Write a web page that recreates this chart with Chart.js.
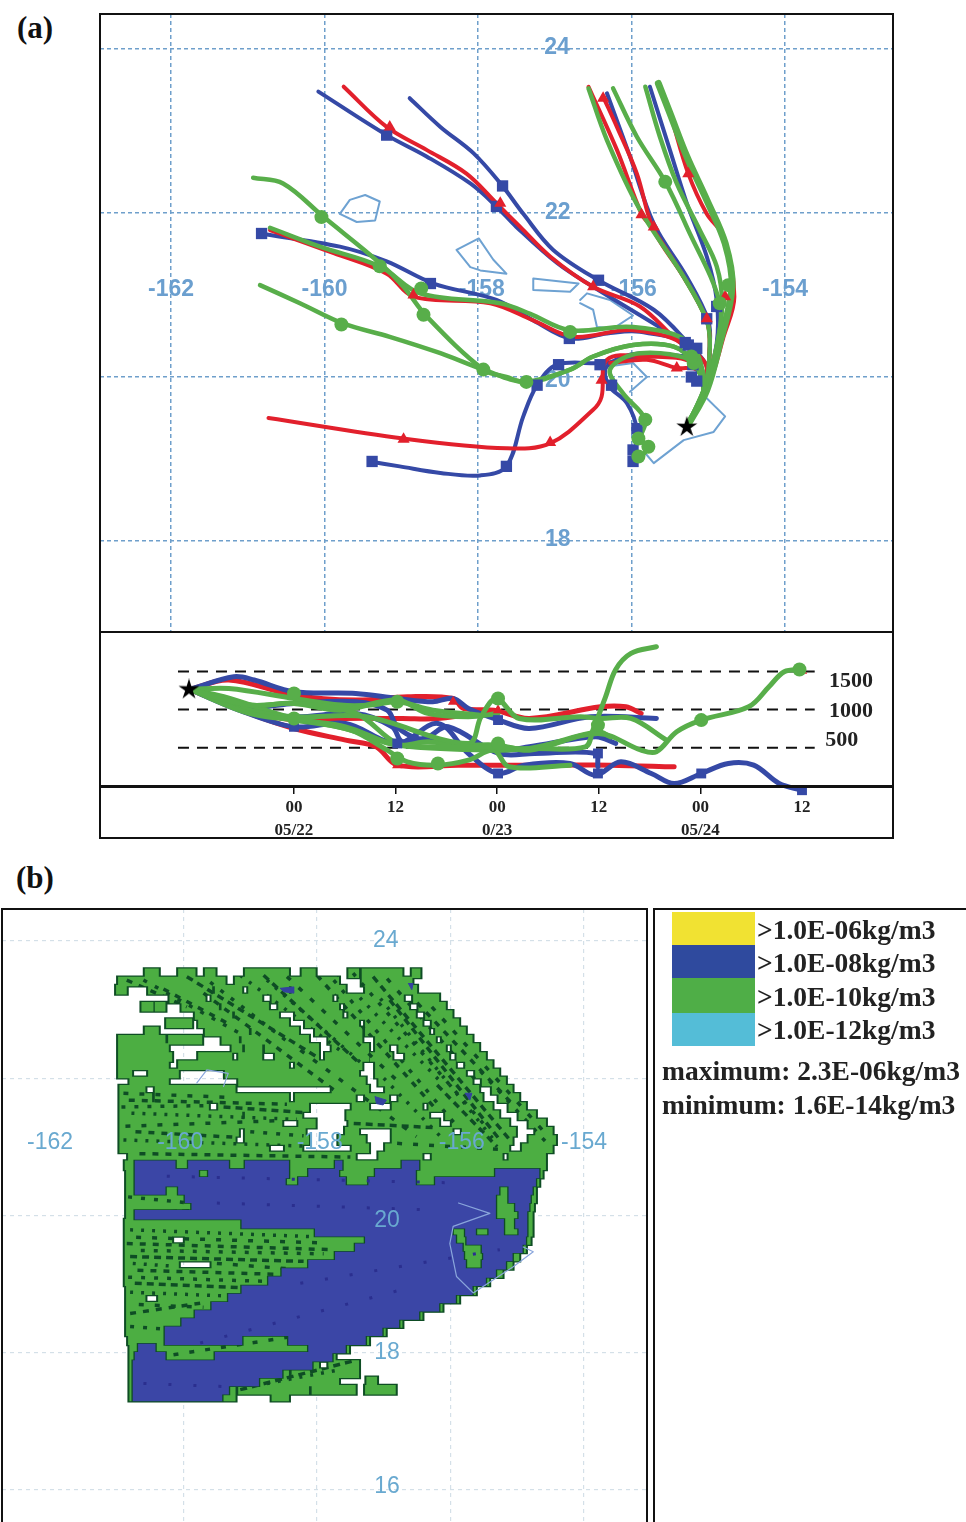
<!DOCTYPE html>
<html>
<head>
<meta charset="utf-8">
<title>Trajectories and concentration</title>
<script src="https://cdn.jsdelivr.net/npm/chart.js@4"></script>
<style>
  html, body { margin: 0; padding: 0; background: #fff; }
  body { position: relative; width: 966px; height: 1522px; overflow: hidden; font-family: "Liberation Serif", serif; }
  canvas { position: absolute; }
  .frame { position: absolute; box-sizing: border-box; border: 2px solid #111; pointer-events: none; }
  .panel { position: absolute; font: bold 31px "Liberation Serif", serif; color: #111; }
  .swatch { position: absolute; left: 672px; width: 83px; }
  .legtext { position: absolute; font: bold 27.5px "Liberation Serif", serif; color: #222; white-space: nowrap; line-height: 30px; }
</style>
</head>
<body>
<div class="panel" style="left:17px;top:10px">(a)</div>
<div class="panel" style="left:16px;top:860px">(b)</div>
<canvas id="mapA" width="792" height="618" style="left:100px;top:14px;filter:blur(0.6px)"></canvas>
<canvas id="heightA" width="792" height="206" style="left:100px;top:632px;filter:blur(0.4px)"></canvas>
<canvas id="mapB" width="644" height="613" style="left:2px;top:909px;filter:blur(0.5px)"></canvas>
<div class="frame" style="left:99px;top:13px;width:795px;height:826px"></div>
<div class="frame" style="left:99px;top:631px;width:795px;height:3px;border-width:2px 0 0 0"></div>
<div class="frame" style="left:99px;top:785px;width:795px;height:4px;border-width:3px 0 0 0"></div>
<div class="frame" style="left:1px;top:908px;width:647px;height:640px"></div>
<div class="frame" style="left:653px;top:908px;width:340px;height:640px"></div>
<div id="legend"></div>

<script>
// panel (a) map, [lon, lat]
const star = [-155.28, 19.39];
const hub = [-155.06, 19.84];

const blueTracks = [
    [star, [-155.04,19.88], [-154.89,20.41], [-154.89,20.94], [-155.02,21.47], [-155.28,22.12], [-155.50,22.77], [-155.76,23.54]],
    [star, [-155.04,19.88], [-154.98,20.37], [-155.00,20.69], [-155.28,21.22], [-155.71,21.87], [-156.02,22.69], [-156.32,23.46]],
    [star, hub, [-155.02,20.13], [-155.26,20.41], [-155.71,20.82], [-156.43,21.18], [-157.02,21.55], [-157.41,21.99], [-157.69,22.34], [-158.06,22.73], [-158.49,23.05], [-158.89,23.40]],
    [star, hub, [-155.19,20.33], [-155.50,20.53], [-156.50,21.10], [-156.97,21.39], [-157.50,21.83], [-157.76,22.08], [-158.10,22.36], [-158.67,22.69], [-159.19,22.95], [-160.08,23.48]],
    [star, hub, [-155.24,20.37], [-155.89,20.55], [-156.32,20.53], [-156.80,20.47], [-157.28,20.69], [-157.76,20.94], [-158.58,21.14], [-159.19,21.41], [-159.80,21.59], [-160.84,21.75]],
    [star, hub, [-155.19,20.21], [-155.80,20.25], [-156.37,20.17], [-156.97,20.15], [-157.23,19.90], [-157.41,19.52], [-157.63,18.91], [-157.97,18.80], [-158.49,18.83], [-159.02,18.91], [-159.41,18.97]],
    [star, hub, [-155.19,20.17], [-155.89,20.29], [-156.32,20.13], [-156.30,19.90], [-156.06,19.68], [-155.93,19.35], [-155.98,18.95]]
];
const redTracks = [
    [star, [-155.00,19.88], [-154.80,20.49], [-154.66,20.98], [-154.80,21.71], [-155.02,21.99], [-155.26,22.48], [-155.50,23.22], [-155.61,23.50]],
    [star, [-155.04,19.88], [-154.98,20.37], [-155.02,20.69], [-155.32,21.22], [-155.74,21.83], [-155.87,21.99], [-156.19,22.77], [-156.56,23.54]],
    [star, [-155.04,19.88], [-154.98,20.37], [-155.02,20.69], [-155.32,21.22], [-155.71,21.79], [-155.93,22.48], [-156.19,23.05], [-156.37,23.42]],
    [star, hub, [-155.04,20.17], [-155.41,20.45], [-155.89,20.86], [-156.50,21.10], [-157.06,21.47], [-157.45,21.83], [-157.76,22.12], [-158.15,22.48], [-158.67,22.77], [-159.19,23.05], [-159.75,23.54]],
    [star, hub, [-155.28,20.37], [-155.98,20.57], [-156.76,20.49], [-157.28,20.69], [-157.84,20.90], [-158.84,20.98], [-159.19,21.26], [-159.88,21.51], [-160.71,21.79]],
    [star, hub, [-155.19,20.17], [-155.80,20.25], [-156.32,20.21], [-156.39,19.76], [-156.50,19.60], [-157.06,19.19], [-157.63,19.13], [-158.97,19.25], [-160.73,19.50]],
    [star, hub, [-155.15,20.09], [-155.41,20.11], [-155.80,20.21], [-156.28,20.17]]
];
const greenTracks = [
    [star, [-155.02,19.84], [-154.85,20.41], [-154.69,21.10], [-154.78,21.63], [-155.02,22.16], [-155.28,22.69], [-155.50,23.22], [-155.65,23.58]],
    [star, hub, [-154.89,20.37], [-154.82,20.90], [-154.89,21.35], [-155.11,21.79], [-155.41,22.36], [-155.63,22.93], [-155.82,23.54]],
    [star, [-155.04,19.88], [-154.89,20.37], [-154.85,20.90], [-155.28,21.83], [-155.56,22.38], [-155.93,22.93], [-156.24,23.52]],
    [star, [-155.04,19.88], [-154.98,20.37], [-155.02,20.69], [-155.32,21.22], [-155.89,22.04], [-156.32,22.89], [-156.56,23.52]],
    [star, hub, [-155.24,20.41], [-155.98,20.61], [-156.80,20.57], [-157.32,20.77], [-157.71,20.90], [-158.75,21.02], [-159.28,21.35], [-160.06,21.59], [-160.71,21.82]],
    [star, hub, [-155.19,20.17], [-155.45,20.37], [-155.98,20.39], [-156.50,20.25], [-156.80,20.09], [-157.37,19.94], [-157.63,20.00], [-157.93,20.09], [-158.67,20.74], [-158.97,21.10], [-159.28,21.39], [-160.01,21.95], [-160.54,22.36], [-160.93,22.43]],
    [star, hub, [-155.19,20.17], [-155.45,20.37], [-155.98,20.39], [-156.50,20.25], [-156.80,20.09], [-157.37,19.94], [-157.93,20.09], [-158.49,20.29], [-159.15,20.49], [-159.75,20.65], [-160.32,20.90], [-160.84,21.12]],
    [star, hub, [-155.15,20.17], [-155.89,20.29], [-156.28,20.09], [-156.11,19.80], [-155.82,19.48], [-155.89,19.23], [-155.78,19.15], [-155.91,18.99]]
];
const blueMarks = [[-155.26,20.39], [-155.30,20.42], [-155.15,20.35], [-155.22,20.00], [-155.15,19.95], [-155.20,20.15], [-155.02,20.71], [-154.89,20.86], [-156.43,21.18], [-157.76,22.08], [-157.68,22.33], [-159.19,22.95], [-160.82,21.75], [-158.62,21.14], [-156.81,20.47], [-156.95,20.15], [-157.23,19.90], [-156.26,19.90], [-157.63,18.91], [-159.38,18.97], [-155.93,19.37], [-155.98,19.11], [-155.98,18.97], [-156.41,20.15]];
const redMarks = [[-156.37,23.40], [-155.87,21.98], [-155.71,21.83], [-155.26,22.48], [-154.78,20.98], [-155.02,20.71], [-155.41,20.11], [-156.39,19.96], [-157.06,19.20], [-158.97,19.24], [-157.71,22.12], [-156.50,21.10], [-159.15,23.05], [-158.84,21.00]];
const greenMarks = [[-154.74,21.12], [-154.85,20.90], [-155.19,20.17], [-155.22,20.25], [-155.56,22.38], [-158.74,21.08], [-158.71,20.76], [-157.93,20.09], [-156.80,20.55], [-159.78,20.64], [-160.04,21.95], [-159.28,21.35], [-155.82,19.48], [-155.91,19.25], [-155.78,19.15], [-155.91,19.03], [-157.37,19.94]];
const coastA = [
    [[-159.80,21.99], [-159.67,22.16], [-159.47,22.22], [-159.28,22.14], [-159.34,21.91], [-159.58,21.89], [-159.80,21.99]],
    [[-158.28,21.55], [-157.99,21.69], [-157.80,21.43], [-157.63,21.26], [-157.97,21.30], [-158.10,21.34], [-158.28,21.55]],
    [[-157.28,21.20], [-156.69,21.14], [-156.80,21.04], [-157.28,21.06], [-157.28,21.20]],
    [[-156.67,20.94], [-156.58,21.02], [-156.28,20.94], [-155.98,20.75], [-156.24,20.59], [-156.45,20.61], [-156.50,20.82], [-156.67,20.90]],
    [[-156.28,20.13], [-155.98,20.17], [-155.80,20.00], [-156.02,19.82]],
    [[-155.02,19.74], [-154.78,19.52], [-154.93,19.33], [-155.32,19.23], [-155.71,18.95], [-155.82,19.07]]
];
const lonTicksA = [-162, -160, -158, -156, -154];
const latTicksA = [24, 22, 20, 18];
const mapLabelsA = [['24',-156.97,24.02], ['22',-156.96,22.01], ['20',-156.96,19.96], ['18',-156.96,18.02], ['-162',-162,21.07], ['-160',-160,21.07], ['-158',-157.95,21.07], ['-156',-155.97,21.07], ['-154',-154,21.07]];

// panel (a) height strip, [hours from 05/22 00, metres]
const h0 = [-12.3, 1264];
const heightBlue = [
    [h0, [-7.1,1430], [-4.7,1387], [0,1234], [7.3,1212], [12.2,1146], [16.4,1103], [18.8,1146], [20.6,1015], [24.2,863], [27.8,753], [35,906], [42.8,884]],
    [h0, [-6.5,993], [0,775], [6.1,819], [12.2,557], [17,819], [20.6,426], [24.1,164], [27.2,273], [32.6,295], [35.6,142], [38.6,317], [42.2,164], [44.9,33], [48.1,164], [51.3,295], [54.3,273], [57.3,33], [60,-55]],
    [h0, [-5.3,993], [0,906], [7.3,950], [11.6,775], [12.8,579], [15.8,644], [18.2,775], [24.2,426], [28.4,426], [35.6,426], [35.9,251]],
    [h0, [-5.3,1037], [0,1081], [7.3,1103], [11,993], [12.2,775], [14.6,622], [19.4,557], [24.2,469], [27.8,513], [35.6,644], [38,557]]
];
const heightRed = [
    [h0, [-7.7,1387], [0,1190], [7.3,1125], [13.4,1168], [18.8,1146], [20,1015], [23.6,993], [27.8,884], [36.2,1037], [39.2,1037], [41,950]],
    [h0, [-5.3,950], [0,753], [6.1,600], [9.7,513], [12.2,273], [19.4,273], [24.1,273], [31.4,273], [37.4,273], [44.9,251]],
    [h0, [-5.3,1000], [0,863], [6.1,884], [12.8,884], [17,884], [24.1,993]]
];
const heightGreen = [
    [h0, [-8.3,1168], [0,884], [6.1,775], [12.2,535], [15.8,579], [19.4,535], [24.1,535], [27.8,469], [35.9,688], [41,469], [42.8,448], [45.2,710], [48.1,863], [53.7,1037], [56.1,1299], [57.9,1496], [60,1526]],
    [h0, [-5.3,993], [0,906], [8.5,906], [20.6,557], [22.1,906], [23.9,1146], [26.6,884], [33.8,906], [36.2,884], [39.8,884], [44,600]],
    [h0, [-5.3,993], [0,884], [6.1,753], [12.2,535], [24.2,469], [27.8,491], [34.4,513], [35.3,731], [36.8,1168], [38,1526], [39.8,1736], [42.8,1823]],
    [h0, [-5.3,950], [0,863], [6.7,731], [11,469], [13.4,317], [17,273], [20.6,338], [23.6,469], [25.4,251], [32.6,273]],
    [h0, [-7.7,1277], [0,1146], [5.5,1059], [9.1,1059], [12.2,1103], [16.4,993], [21.8,930]],
    [h0, [-5.3,1060], [0,1081], [5.5,993], [12.2,1125], [15.8,950], [20.6,906], [24.1,950]],
    [h0, [-5.3,1060], [0,1081], [7.3,950], [12.2,557], [16.4,513], [24.1,513], [27.8,491], [35.9,710], [37.4,644]]
];
const heightBlueMarks = [[0,775], [12.2,557], [24.1,164], [24.1,863], [35.9,164], [35.9,426], [48.1,164], [60,-55]];
const heightRedMarks = [[12.2,273], [18.8,1103], [24.1,993], [35.9,775], [60,1510]];
const heightGreenMarks = [[0,1212], [0,884], [12.2,1103], [12.2,360], [24.1,1146], [24.1,557], [35.9,797], [48.1,863], [59.7,1526], [17,295]];
const heightLevels = [1500, 1000, 500];
const levelSpan = [-13.7, 61.5];
const levelLabels = [['1500',65.8,1374], ['1000',65.8,982], ['500',64.7,602]];
const timeTicks = [0, 12, 24, 36, 48, 60];
const hourLabels = ['00', '12', '00', '12', '00', '12'];
const dayLabels = ['05/22', '', '0/23', '', '05/24', ''];

// panel (b) concentration map, each row is [lat, lonStart, lonEnd, lonStart, lonEnd, ...]
const greenRows = [
    [23.53, -160.55,-160.40, -160.05,-159.85, -159.65,-159.55, -159.05,-158.45, -158.20,-158.05, -157.50,-157.40, -157.30,-156.75, -156.55,-156.48],
    [23.41, -160.95,-160.00, -159.95,-159.40, -159.20,-158.30, -158.25,-157.70, -157.30,-156.60],
    [23.29, -160.98,-160.88, -160.50,-159.60, -159.50,-159.15, -159.00,-158.45, -158.35,-157.60, -157.25,-156.53],
    [23.16, -160.18,-159.70, -159.55,-158.85, -158.65,-157.80, -157.65,-156.73, -156.53,-156.20],
    [23.04, -160.60,-160.48, -160.40,-160.30, -160.00,-159.50, -159.40,-158.75, -158.55,-157.70, -157.55,-156.65, -156.45,-156.10],
    [22.92, -159.80,-159.30, -159.20,-158.60, -158.30,-157.65, -157.50,-156.55, -156.35,-156.00],
    [22.80, -160.23,-159.90, -159.75,-159.15, -159.10,-158.45, -158.15,-157.40, -157.25,-156.45, -156.25,-155.90],
    [22.68, -160.55,-160.40, -159.65,-159.05, -158.95,-158.30, -158.00,-157.35, -157.25,-156.35, -156.20,-155.80],
    [22.56, -160.95,-160.30, -160.20,-159.75, -159.40,-159.20, -159.10,-158.15, -157.80,-157.35, -157.10,-156.25, -156.10,-155.70],
    [22.44, -160.95,-160.80, -160.75,-160.25, -159.25,-159.15, -159.05,-158.85, -158.75,-158.00, -157.75,-157.25, -157.10,-156.95, -156.75,-156.10, -155.95,-155.60],
    [22.31, -160.95,-160.20, -159.75,-159.30, -159.15,-158.85, -158.60,-158.00, -157.85,-157.25, -157.18,-156.90, -156.65,-156.05, -155.88,-155.50],
    [22.19, -160.95,-160.25, -160.05,-159.80, -159.75,-158.45, -158.30,-157.35, -157.10,-155.95, -155.75,-155.40],
    [22.07, -160.95,-160.80, -160.50,-160.10, -159.35,-157.40, -157.10,-155.80, -155.60,-155.30],
    [21.95, -160.78,-160.25, -159.15,-157.30, -157.05,-155.70, -155.50,-155.20],
    [21.83, -160.93,-160.60, -160.40,-159.25, -157.75,-157.25, -156.95,-155.60, -155.35,-155.10],
    [21.71, -160.93,-160.50, -160.40,-158.45, -158.30,-157.45, -157.25,-156.95, -156.75,-155.55, -155.25,-155.00],
    [21.58, -160.93,-159.65, -159.45,-158.15, -157.45,-157.25, -156.85,-156.45, -156.30,-155.40, -155.10,-154.90],
    [21.46, -160.93,-159.15, -159.05,-158.25, -157.53,-157.30, -157.25,-156.35, -156.05,-155.30, -154.95,-154.75],
    [21.34, -160.93,-158.55, -158.25,-158.05, -157.50,-156.20, -155.95,-155.15, -154.80,-154.60],
    [21.22, -160.93,-159.20, -159.05,-158.20, -157.55,-157.40, -156.85,-156.00, -155.80,-155.05, -154.70,-154.50],
    [21.10, -160.93,-159.25, -159.05,-158.15, -157.65,-157.30, -156.85,-155.10, -154.80,-154.45],
    [20.98, -160.93,-158.75, -158.45,-158.25, -157.45,-157.25, -156.95,-155.15, -154.90,-154.50],
    [20.86, -160.80,-157.45, -157.05,-156.45, -156.25,-155.25, -155.10,-154.60],
    [20.73, -160.85,-154.60],
    [20.61, -160.83,-154.65],
    [20.49, -160.83,-154.70],
    [20.37, -160.83,-154.75],
    [20.25, -160.83,-154.75],
    [20.13, -160.83,-154.78],
    [20.01, -160.83,-154.80],
    [19.88, -160.85,-154.80],
    [19.76, -160.85,-154.80],
    [19.64, -160.85,-160.20, -159.95,-154.83],
    [19.52, -160.85,-154.90],
    [19.40, -160.85,-155.00],
    [19.28, -160.85,-160.10, -159.55,-155.10],
    [19.16, -160.85,-155.25],
    [19.04, -160.85,-155.45],
    [18.91, -160.83,-155.65],
    [18.79, -160.83,-160.60, -160.35,-155.90],
    [18.67, -160.83,-156.15],
    [18.55, -160.83,-156.45],
    [18.43, -160.83,-156.75],
    [18.31, -160.83,-157.00],
    [18.18, -160.80,-157.25],
    [18.06, -160.78,-157.55],
    [17.94, -160.78,-157.75],
    [17.82, -160.78,-158.00, -157.80,-157.40],
    [17.70, -160.78,-158.45, -158.35,-157.40],
    [17.58, -160.78,-158.85, -158.80,-157.70, -157.23,-157.13],
    [17.46, -160.78,-159.25, -159.15,-158.15, -158.05,-157.45, -157.25,-156.85],
    [17.36, -160.78,-159.25, -158.65,-158.45]
];
const blueRows = [
    [20.73, -160.75,-160.10, -159.95,-159.30, -159.10,-158.40, -157.75,-157.60, -156.75,-156.45],
    [20.61, -160.75,-159.75, -159.65,-158.40, -158.15,-157.65, -157.15,-156.50, -155.35,-154.65],
    [20.49, -160.75,-158.45, -158.30,-157.55, -157.25,-156.50, -156.25,-154.70],
    [20.37, -160.75,-160.25, -160.10,-155.25, -155.15,-154.75],
    [20.25, -160.00,-155.30, -155.15,-154.78],
    [20.13, -159.90,-155.30, -155.05,-154.80],
    [20.01, -160.75,-155.30, -155.00,-154.83],
    [19.88, -159.15,-155.18, -155.05,-154.83],
    [19.76, -158.05,-155.95, -155.80,-155.60, -155.45,-155.18, -155.00,-154.83],
    [19.64, -157.30,-155.90, -155.78,-154.85],
    [19.52, -157.45,-155.80, -155.55,-154.90],
    [19.40, -157.75,-155.78, -155.53,-155.05],
    [19.28, -158.15,-155.75, -155.55,-155.15],
    [19.16, -158.55,-155.30],
    [19.04, -158.75,-155.45],
    [18.91, -159.15,-155.65],
    [18.79, -159.35,-155.90],
    [18.67, -159.60,-156.15],
    [18.55, -159.85,-156.45],
    [18.43, -160.05,-156.75],
    [18.31, -160.30,-157.00],
    [18.18, -160.30,-159.10, -158.45,-157.25],
    [18.06, -160.70,-160.40, -158.15,-157.55],
    [17.94, -160.75,-160.25, -159.55,-157.75],
    [17.82, -160.78,-158.05],
    [17.70, -160.78,-158.50],
    [17.58, -160.78,-158.85],
    [17.46, -160.78,-159.30],
    [17.36, -160.78,-159.40]
];
const bluePatches = [
    [[-158.55,23.31], [-158.35,23.33], [-158.35,23.24], [-158.50,23.26], [-158.55,23.31]],
    [[-157.13,21.73], [-156.96,21.68], [-157.01,21.61], [-157.11,21.63], [-157.13,21.73]],
    [[-155.78,21.78], [-155.68,21.78], [-155.71,21.68], [-155.78,21.78]],
    [[-156.63,23.38], [-156.56,23.38], [-156.58,23.29], [-156.63,23.38]]
];
const darkSpeckle = [
    [[-160.85,23.43], [-159.95,23.04]], [[-160.60,23.43], [-159.15,22.65]], [[-159.95,23.48], [-158.00,22.31]],
    [[-159.15,23.50], [-157.66,22.41]], [[-158.45,23.48], [-156.76,21.93]], [[-158.00,23.50], [-156.21,21.54]],
    [[-157.46,23.53], [-155.51,21.34]], [[-157.16,23.48], [-155.11,21.10]], [[-157.05,23.16], [-155.35,21.10]],
    [[-156.28,23.04], [-154.60,21.22]], [[-159.70,23.24], [-157.75,21.83]], [[-157.75,23.43], [-155.86,21.25]],
    [[-156.91,23.14], [-155.26,21.10]], [[-158.75,23.43], [-157.16,22.07]], [[-158.25,22.41], [-156.51,21.15]],
    [[-160.30,23.30], [-159.30,22.78]], [[-159.60,23.40], [-158.40,22.50]], [[-158.80,23.50], [-157.40,22.25]],
    [[-157.70,23.52], [-156.10,21.90]], [[-156.95,23.45], [-155.60,21.95]], [[-156.50,23.10], [-155.05,21.60]],
    [[-155.55,22.10], [-154.55,21.05]], [[-156.20,21.90], [-155.30,21.00]], [[-157.00,22.00], [-156.10,21.10]],
    [[-160.90,21.78], [-159.30,21.72]], [[-160.82,21.68], [-158.45,21.62]], [[-160.93,21.58], [-159.70,21.60]],
    [[-159.40,21.58], [-158.20,21.50]], [[-160.78,21.49], [-158.30,21.40]], [[-160.87,21.30], [-158.60,21.38]],
    [[-160.72,21.22], [-159.25,21.14]], [[-159.00,21.22], [-158.20,21.16]], [[-157.45,21.34], [-156.26,21.28]],
    [[-160.90,21.10], [-158.20,21.01]], [[-156.80,21.05], [-155.20,20.96]], [[-160.66,20.90], [-157.50,20.85]],
    [[-160.83,20.27], [-159.90,20.18]], [[-160.74,20.03], [-159.85,20.07]], [[-160.80,19.79], [-158.05,19.69]],
    [[-160.71,19.68], [-157.90,19.60]], [[-160.85,19.59], [-157.75,19.50]], [[-160.64,19.49], [-157.90,19.44]],
    [[-160.80,19.40], [-158.20,19.33]], [[-160.76,19.30], [-160.15,19.26]], [[-159.50,19.30], [-158.40,19.22]],
    [[-160.69,19.20], [-158.55,19.14]], [[-160.83,19.10], [-158.80,19.04]], [[-160.73,19.01], [-159.00,18.94]],
    [[-160.80,18.88], [-159.20,18.82]], [[-160.67,18.70], [-159.70,18.66]], [[-160.80,18.57], [-159.75,18.72]],
    [[-160.80,18.38], [-160.25,18.34]], [[-159.15,17.46], [-157.41,17.89]], [[-158.75,17.55], [-157.66,17.75]],
    [[-160.15,17.97], [-157.85,18.31]]
];
const speckleDashes = [[6, 7], [4, 9], [7, 5], [3, 8], [5, 11]];
const navySpeckle = [
    [[-160.25,20.57], [-155.76,20.47]], [[-159.50,20.18], [-156.26,20.08]], [[-158.25,19.01], [-155.26,19.50]],
    [[-159.75,18.14], [-156.76,18.91]], [[-160.60,17.55], [-159.25,17.50]]
];
const coastB = [
    [[-159.80,21.93], [-159.65,22.12], [-159.33,22.07], [-159.40,21.88]],
    [[-155.88,20.18], [-155.41,20.03], [-155.96,19.84], [-156.01,19.59], [-155.91,19.11], [-155.66,18.87], [-155.06,19.25], [-154.76,19.47], [-154.91,19.54]]
];
const lonTicksB = [-160, -158, -156, -154];
const latTicksB = [24, 22, 20, 18, 16];
const mapLabelsB = [['24',-156.97,24], ['20',-156.95,19.93], ['18',-156.95,18], ['16',-156.95,16.04], ['-162',-162,21.06], ['-154',-154,21.06], ['-160',-160.05,21.06], ['-158',-157.96,21.06], ['-156',-155.83,21.06]];

// legend of panel (b)
const legendLabels = ['>1.0E-06kg/m3', '>1.0E-08kg/m3', '>1.0E-10kg/m3', '>1.0E-12kg/m3'];
const legendColors = ['#f1e232', '#2f4a9e', '#4fae47', '#54bdd7'];
const legendTops = [912, 945, 978, 1013, 1046];
const legendNotes = ['maximum: 2.3E-06kg/m3', 'minimum: 1.6E-14kg/m3'];

const BLUE = '#3549a6', RED = '#e2202c', GREEN = '#58ae4a', DARK = '#0e4d24';

function starImage() {
    const c = document.createElement('canvas');
    c.width = c.height = 22;
    const g = c.getContext('2d');
    g.fillStyle = '#000';
    g.beginPath();
    for (let i = 0; i < 10; i++) {
        const r = i % 2 ? 4 : 11;
        const a = -Math.PI / 2 + i * Math.PI / 5;
        g.lineTo(11 + r * Math.cos(a), 11 + r * Math.sin(a));
    }
    g.closePath();
    g.fill();
    return c;
}

function lineSet(data, color, width, extra) {
    return Object.assign({ data: data, showLine: true, borderColor: color, borderWidth: width, pointRadius: 0, tension: 0,
        borderJoinStyle: 'round', borderCapStyle: 'round', fill: false }, extra || {});
}
function trackSet(data, color, width, extra) {
    return lineSet(data, color, width, Object.assign({ tension: 0.35 }, extra || {}));
}
function markSet(data, color, style, radius) {
    return { data: data, showLine: false, pointStyle: style, pointRadius: radius, backgroundColor: color, borderColor: color, borderWidth: 0, clip: false };
}

// a row list becomes one broken line, the gaps stay open.
// inset moves the span ends, so the dark pass underneath shows as an outline
function rowsToLine(rows, inset) {
    const pts = [];
    rows.forEach(row => {
        for (let i = 1; i < row.length; i += 2) {
            pts.push([row[i] + inset, row[0]], [row[i + 1] - inset, row[0]], [NaN, NaN]);
        }
    });
    return pts;
}

// text that sits at data positions
function textPlugin(list, font, color, hook) {
    const plugin = { id: 'texts' };
    plugin[hook] = function(chart) {
        const ctx = chart.ctx;
        ctx.save();
        ctx.font = font;
        ctx.fillStyle = color;
        ctx.textAlign = 'center';
        ctx.textBaseline = 'middle';
        list.forEach(item => {
            ctx.fillText(item[0], chart.scales.x.getPixelForValue(item[1]), chart.scales.y.getPixelForValue(item[2]));
        });
        ctx.restore();
    };
    return plugin;
}

// speckle only paints where the fill already is, never on the white gaps
const atopPlugin = {
    id: 'atop',
    beforeDatasetDraw(chart, args) {
        if (chart.data.datasets[args.index].atop) chart.ctx.globalCompositeOperation = 'source-atop';
    },
    afterDatasetDraw(chart) {
        chart.ctx.globalCompositeOperation = 'source-over';
    }
};

function mapAxis(min, max, ticks, color, dash, width) {
    return {
        type: 'linear', min: min, max: max,
        afterBuildTicks: scale => { scale.ticks = ticks.map(v => ({ value: v })); },
        ticks: { display: false },
        border: { display: false, dash: dash },
        grid: { color: color, drawTicks: false, lineWidth: width },
        afterFit: scale => { if (scale.isHorizontal()) scale.height = 0; else scale.width = 0; }
    };
}

function drawChart(id, datasets, scales, plugins) {
    new Chart(document.getElementById(id), {
        type: 'scatter',
        data: { datasets: datasets.slice().reverse() },
        options: {
            responsive: false, animation: false,
            layout: { padding: 0, autoPadding: false },
            plugins: { legend: { display: false }, tooltip: { enabled: false } },
            scales: scales
        },
        plugins: plugins
    });
}

// panel (a) map
const setsA = [];
coastA.forEach(c => setsA.push(lineSet(c, '#6ea2d2', 2)));
blueTracks.forEach(t => setsA.push(trackSet(t, BLUE, 4)));
redTracks.forEach(t => setsA.push(trackSet(t, RED, 4)));
greenTracks.forEach((t, i) => setsA.push(trackSet(t, GREEN, i === 0 ? 7 : 4.5)));
setsA.push(markSet(blueMarks, BLUE, 'rect', 8));
setsA.push(markSet(redMarks, RED, 'triangle', 7));
setsA.push(markSet(greenMarks, GREEN, 'circle', 7));
setsA.push(markSet([star], '#000', starImage(), 11));
drawChart('mapA', setsA, {
    x: mapAxis(-162.925, -152.606, lonTicksA, '#6f9fcb', [4, 3], 1.5),
    y: mapAxis(16.89, 24.427, latTicksA, '#6f9fcb', [4, 3], 1.5)
}, [textPlugin(mapLabelsA, 'bold 23px "Liberation Sans", sans-serif', '#6b9fcf', 'beforeDatasetsDraw')]);

// panel (a) height strip
const setsH = [];
heightLevels.forEach(level => {
    setsH.push(lineSet([[levelSpan[0], level], [levelSpan[1], level]], '#111', 2, { borderDash: [11, 8], borderCapStyle: 'butt' }));
});
heightRed.forEach(t => setsH.push(trackSet(t, RED, 5)));
heightBlue.forEach(t => setsH.push(trackSet(t, BLUE, 5, { clip: false })));
heightGreen.forEach(t => setsH.push(trackSet(t, GREEN, 5, { clip: false })));
setsH.push(markSet(heightRedMarks, RED, 'triangle', 6));
setsH.push(markSet(heightBlueMarks, BLUE, 'rect', 7));
setsH.push(markSet(heightGreenMarks, GREEN, 'circle', 7));
setsH.push(markSet([[-12.4, 1264]], '#000', starImage(), 11));
drawChart('heightA', setsH, {
    x: {
        type: 'linear', min: -22.91, max: 70.63,
        afterBuildTicks: scale => { scale.ticks = timeTicks.map(v => ({ value: v })); },
        afterFit: scale => { scale.height = 52; },
        border: { display: false },
        grid: { drawOnChartArea: false, color: '#111', tickLength: 8, lineWidth: 1.5 },
        ticks: {
            maxRotation: 0, autoSkip: false, padding: 2, color: '#222',
            font: { family: '"Liberation Serif"', weight: 'bold', size: 17, lineHeight: 1.35 },
            callback: function(value) {
                const i = timeTicks.indexOf(value);
                return dayLabels[i] ? [hourLabels[i], dayLabels[i]] : hourLabels[i];
            }
        }
    },
    y: { type: 'linear', min: 0, max: 2016, display: false }
}, [textPlugin(levelLabels, 'bold 22px "Liberation Serif", serif', '#222', 'afterDatasetsDraw')]);

// panel (b) map, a dark pass under each fill gives the contour
const setsB = [];
const cellEdge = { borderCapStyle: 'butt', borderJoinStyle: 'miter' };
setsB.push(lineSet(rowsToLine(greenRows, -0.06), DARK, 12, cellEdge));
setsB.push(lineSet(rowsToLine(greenRows, -0.03), '#4cae42', 9.5, cellEdge));
darkSpeckle.forEach((s, i) => setsB.push(lineSet(s, DARK, 3.5, {
    borderDash: speckleDashes[i % speckleDashes.length], borderCapStyle: 'butt', atop: true
})));
bluePatches.forEach(p => setsB.push(lineSet(p, '#34419f', 1, { fill: 'shape', backgroundColor: '#34419f' })));
setsB.push(lineSet(rowsToLine(blueRows, 0), DARK, 11, cellEdge));
setsB.push(lineSet(rowsToLine(blueRows, 0.02), '#3b46a6', 9.5, cellEdge));
navySpeckle.forEach(s => setsB.push(lineSet(s, '#2b2f8f', 3, { borderDash: [3, 22], borderCapStyle: 'butt' })));
coastB.forEach(c => setsB.push(lineSet(c, '#8aa6dc', 1.2)));
drawChart('mapB', setsB, {
    x: mapAxis(-162.719, -153.071, lonTicksB, '#d4e0e8', [4, 4], 1.2),
    y: mapAxis(15.531, 24.466, latTicksB, '#d4e0e8', [4, 4], 1.2)
}, [atopPlugin, textPlugin(mapLabelsB, '23px "Liberation Sans", sans-serif', '#69a9d0', 'afterDatasetsDraw')]);

// legend
const legend = document.getElementById('legend');
legendLabels.forEach((label, i) => {
    const sw = document.createElement('div');
    sw.className = 'swatch';
    sw.style.top = legendTops[i] + 'px';
    sw.style.height = (legendTops[i + 1] - legendTops[i]) + 'px';
    sw.style.background = legendColors[i];
    legend.appendChild(sw);
    const tx = document.createElement('div');
    tx.className = 'legtext';
    tx.style.left = '757px';
    tx.style.top = (915 + i * 33.3) + 'px';
    tx.textContent = label;
    legend.appendChild(tx);
});
legendNotes.forEach((note, i) => {
    const tx = document.createElement('div');
    tx.className = 'legtext';
    tx.style.left = '662px';
    tx.style.top = (1056 + i * 34) + 'px';
    tx.textContent = note;
    legend.appendChild(tx);
});
</script>
</body>
</html>
